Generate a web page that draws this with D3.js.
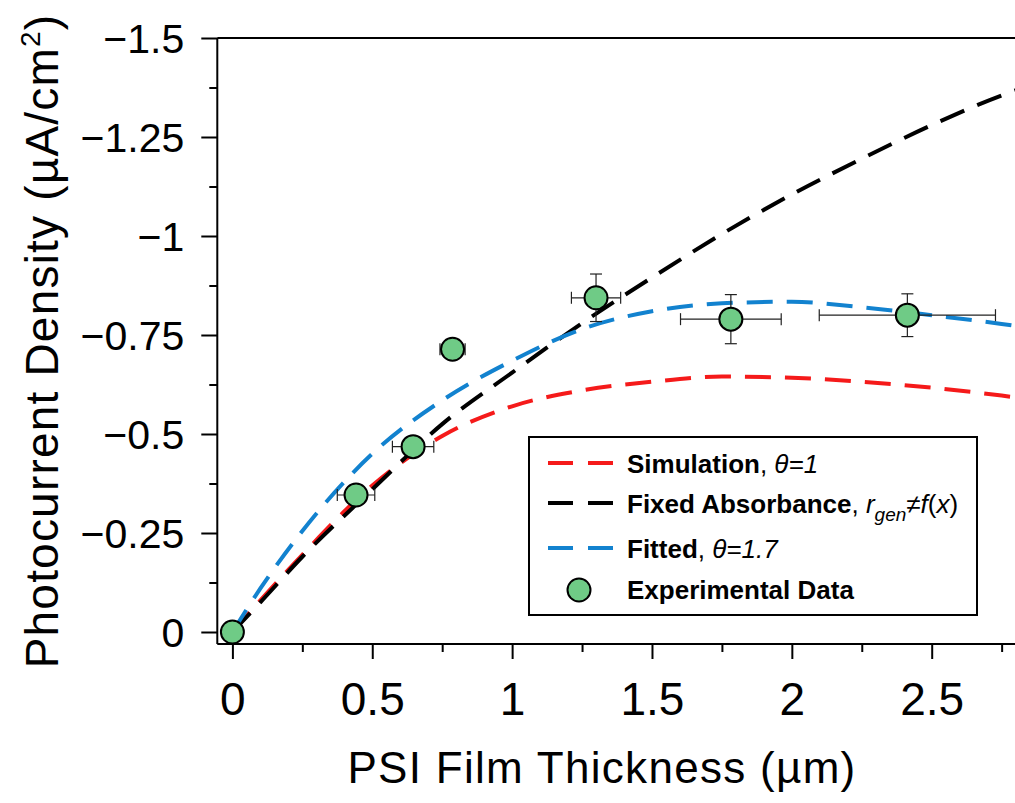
<!DOCTYPE html>
<html>
<head>
<meta charset="utf-8">
<script src="https://cdn.jsdelivr.net/npm/d3@7"></script>
<style>
  html, body { margin: 0; padding: 0; background: #fff; }
  svg { display: block; font-family: 'Liberation Sans', Arial, Helvetica, sans-serif; }
</style>
</head>
<body>
<div id="chart"></div>
<script>
// x samples for the model curves (PSI film thickness, um)
const curveX = [0, 0.1, 0.25, 0.5, 0.75, 1, 1.25, 1.5, 1.75, 2, 2.25, 2.5, 2.75, 2.85];
// photocurrent density values (uA/cm2)
const simulation = [0, -0.08, -0.195, -0.37, -0.495, -0.57, -0.61, -0.632, -0.645, -0.642, -0.632, -0.617, -0.597, -0.588];
const fixedAbs   = [0, -0.075, -0.19, -0.36, -0.525, -0.655, -0.78, -0.895, -1.005, -1.105, -1.195, -1.28, -1.355, -1.38];
const fitted     = [0, -0.11, -0.255, -0.45, -0.585, -0.685, -0.765, -0.81, -0.83, -0.834, -0.82, -0.8, -0.778, -0.768];

// experimental data with error bars
const expX    = [0, 0.442, 0.646, 0.787, 1.30, 1.782, 2.413];
const expY    = [0, -0.346, -0.468, -0.714, -0.844, -0.79, -0.80];
const expXErr = [0, 0.067, 0.074, 0.045, 0.088, 0.18, 0.315];
const expYErr = [0, 0.015, 0.015, 0.02, 0.06, 0.062, 0.054];

// ticks
const xTicks = [0, 0.5, 1, 1.5, 2, 2.5];
const xTickLabels = ["0", "0.5", "1", "1.5", "2", "2.5"];
const xMinor = [0.25, 0.75, 1.25, 1.75, 2.25, 2.75];
const yTicks = [0, -0.25, -0.5, -0.75, -1, -1.25, -1.5];
const yTickLabels = ["0", "\u22120.25", "\u22120.5", "\u22120.75", "\u22121", "\u22121.25", "\u22121.5"];
const yMinor = [-0.125, -0.375, -0.625, -0.875, -1.125, -1.375];

const W = 1015, H = 803;
const xMin = -0.054, xMax = 2.9, yBottom = 0.0303;

const svg = d3.select("#chart").append("svg")
    .attr("width", W)
    .attr("height", H);

const x = d3.scaleLinear().domain([0, 2.5]).range([232.4, 931.7]);
const y = d3.scaleLinear().domain([0, -1.5]).range([632, 38]);

// frame: left, bottom and top lines
const frame = svg.append("g").attr("stroke", "#000").attr("stroke-width", 2);
frame.append("line").attr("x1", x(xMin)).attr("x2", x(xMin)).attr("y1", y(-1.5)).attr("y2", y(yBottom));
frame.append("line").attr("x1", x(xMin)).attr("x2", x(xMax)).attr("y1", y(yBottom)).attr("y2", y(yBottom));
frame.append("line").attr("x1", x(xMin)).attr("x2", x(xMax)).attr("y1", y(-1.5)).attr("y2", y(-1.5));

// y axis
const yAxisG = svg.append("g")
    .attr("transform", `translate(${x(xMin)},0)`)
    .call(d3.axisLeft(y).tickValues(yTicks).tickSize(16).tickPadding(17)
        .tickFormat((d, i) => yTickLabels[i]));
svg.append("g")
    .attr("transform", `translate(${x(xMin)},0)`)
    .call(d3.axisLeft(y).tickValues(yMinor).tickSize(8).tickFormat(""))
    .call(g => g.select(".domain").remove())
    .selectAll("line").attr("stroke-width", 2);
yAxisG.select(".domain").remove();
yAxisG.selectAll("line").attr("stroke-width", 2);
yAxisG.selectAll("text")
    .attr("font-size", 41)
    .attr("dy", "0.35em")
    .attr("font-family", null);

// x axis
const xAxisG = svg.append("g")
    .attr("transform", `translate(0,${y(yBottom)})`)
    .call(d3.axisBottom(x).tickValues(xTicks).tickSize(15)
        .tickFormat((d, i) => xTickLabels[i]));
svg.append("g")
    .attr("transform", `translate(0,${y(yBottom)})`)
    .call(d3.axisBottom(x).tickValues(xMinor).tickSize(8).tickFormat(""))
    .call(g => g.select(".domain").remove())
    .selectAll("line").attr("stroke-width", 2);
xAxisG.select(".domain").remove();
xAxisG.selectAll("line").attr("stroke-width", 2);
xAxisG.selectAll("text")
    .attr("font-size", 46)
    .attr("y", 71)
    .attr("dy", null)
    .attr("font-family", null);

// axis titles
svg.append("text")
    .attr("x", 602).attr("y", 783)
    .attr("text-anchor", "middle")
    .attr("font-size", 44)
    .attr("letter-spacing", 1.3)
    .text("PSI Film Thickness (\u00b5m)");

const yTitle = svg.append("text")
    .attr("transform", "translate(58,341) rotate(-90)")
    .attr("text-anchor", "middle")
    .attr("font-size", 46)
    .attr("letter-spacing", 1.2);
yTitle.append("tspan").text("Photocurrent Density (\u00b5A/cm");
yTitle.append("tspan").attr("font-size", 28).attr("dy", -18).text("2");
yTitle.append("tspan").attr("dy", 18).text(")");

// curves
const series = [
    { name: "sim", values: simulation, color: "#f51a1a" },
    { name: "fixed", values: fixedAbs, color: "#000000" },
    { name: "fit", values: fitted, color: "#1282cf" }
];
const line = d3.line()
    .x(d => x(d[0]))
    .y(d => y(d[1]))
    .curve(d3.curveMonotoneX);

svg.append("g")
    .selectAll("path")
    .data(series)
    .join("path")
    .attr("d", s => line(curveX.map((cx, i) => [cx, s.values[i]])))
    .attr("fill", "none")
    .attr("stroke", s => s.color)
    .attr("stroke-width", 4)
    .attr("stroke-dasharray", "26,14");

// experimental points
const pts = expX.map((px, i) => ({ x: px, y: expY[i], ex: expXErr[i], ey: expYErr[i] }));
const errG = svg.append("g").attr("stroke", "#222").attr("stroke-width", 1.2);
pts.filter(d => d.ex > 0).forEach(d => {
    errG.append("line").attr("x1", x(d.x - d.ex)).attr("x2", x(d.x + d.ex)).attr("y1", y(d.y)).attr("y2", y(d.y));
    errG.append("line").attr("x1", x(d.x - d.ex)).attr("x2", x(d.x - d.ex)).attr("y1", y(d.y) - 6).attr("y2", y(d.y) + 6);
    errG.append("line").attr("x1", x(d.x + d.ex)).attr("x2", x(d.x + d.ex)).attr("y1", y(d.y) - 6).attr("y2", y(d.y) + 6);
    errG.append("line").attr("x1", x(d.x)).attr("x2", x(d.x)).attr("y1", y(d.y - d.ey)).attr("y2", y(d.y + d.ey));
    errG.append("line").attr("x1", x(d.x) - 6).attr("x2", x(d.x) + 6).attr("y1", y(d.y - d.ey)).attr("y2", y(d.y - d.ey));
    errG.append("line").attr("x1", x(d.x) - 6).attr("x2", x(d.x) + 6).attr("y1", y(d.y + d.ey)).attr("y2", y(d.y + d.ey));
});

svg.append("g")
    .selectAll("circle")
    .data(pts)
    .join("circle")
    .attr("cx", d => x(d.x))
    .attr("cy", d => y(d.y))
    .attr("r", 11.5)
    .attr("fill", "#6fcb86")
    .attr("stroke", "#000")
    .attr("stroke-width", 2);

// legend
const legend = svg.append("g");
legend.append("rect")
    .attr("x", 529).attr("y", 437)
    .attr("width", 448).attr("height", 178)
    .attr("fill", "#fff")
    .attr("stroke", "#000")
    .attr("stroke-width", 2);

const legendRows = [
    { color: "#f51a1a", lineY: 463, textY: 473,
      parts: [["Simulation", "b"], [", ", "n"], ["\u03b8=1", "i"]] },
    { color: "#000000", lineY: 503, textY: 513,
      parts: [["Fixed Absorbance", "b"], [", ", "n"], ["r", "i"], ["gen", "sub"], ["\u2260", "n"], ["f", "i"], ["(", "n"], ["x", "i"], [")", "n"]] },
    { color: "#1282cf", lineY: 548, textY: 558,
      parts: [["Fitted", "b"], [", ", "n"], ["\u03b8=1.7", "i"]] },
    { color: null, lineY: 590, textY: 599,
      parts: [["Experimental Data", "b"]] }
];

legendRows.forEach(row => {
    if (row.color) {
        legend.append("line")
            .attr("x1", 548).attr("x2", 613)
            .attr("y1", row.lineY).attr("y2", row.lineY)
            .attr("stroke", row.color)
            .attr("stroke-width", 4)
            .attr("stroke-dasharray", "25,15");
    } else {
        legend.append("circle")
            .attr("cx", 579).attr("cy", row.lineY)
            .attr("r", 11.5)
            .attr("fill", "#6fcb86")
            .attr("stroke", "#000")
            .attr("stroke-width", 2);
    }
    const t = legend.append("text")
        .attr("x", 627).attr("y", row.textY)
        .attr("font-size", 26);
    let shifted = false;
    row.parts.forEach(([txt, kind]) => {
        const ts = t.append("tspan").text(txt);
        if (kind === "b") ts.attr("font-weight", "bold");
        if (kind === "i") ts.attr("font-style", "italic");
        if (kind === "sub") {
            ts.attr("font-style", "italic").attr("font-size", 19).attr("dy", 8);
            shifted = true;
        } else if (shifted) {
            ts.attr("dy", -8);
            shifted = false;
        }
    });
});
</script>
</body>
</html>
